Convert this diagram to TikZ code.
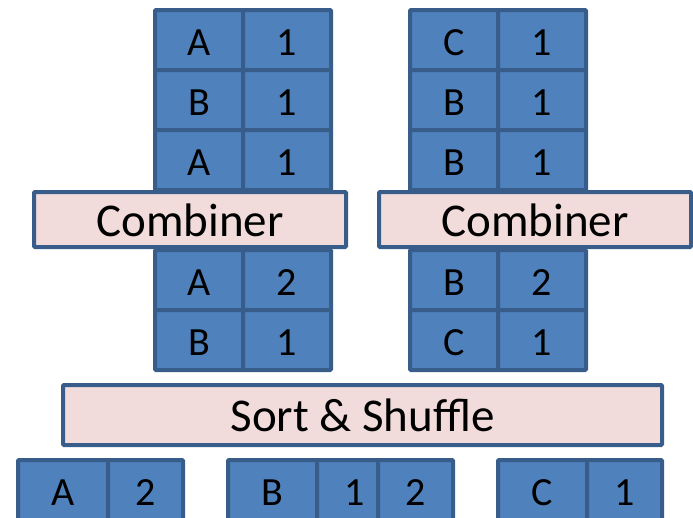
\documentclass[tikz,border=0pt]{standalone}
\usepackage{fontspec}
\setmainfont{Carlito}
\definecolor{cellblue}{HTML}{4F81BD}
\definecolor{cellline}{HTML}{385D8A}
\definecolor{stagepink}{HTML}{F2DCDB}

\begin{document}
\begin{tikzpicture}[x=1pt,y=-1pt,
	cell/.style={draw=cellline,fill=cellblue,line width=4pt,rounded corners=1pt,
		anchor=north west,inner sep=0pt,outer sep=0pt,minimum height=60pt,
		text height=30pt,text depth=0pt,font=\fontsize{40}{40}\selectfont},
	stage/.style={draw=cellline,fill=stagepink,line width=4pt,rounded corners=1pt,
		inner sep=0pt,outer sep=0pt,text height=33pt,text depth=0pt,
		font=\fontsize{47}{47}\selectfont}]
\useasboundingbox (0,0) rectangle (693,517);
\clip (0,0) rectangle (693,517);
% map output, before the combiners
\foreach \k/\v [count=\i] in {A/1,B/1,A/1} {
	\node[cell,minimum width=88pt] (lk\i) at (155,{10+60*(\i-1)}) {\k};
	\node[cell,minimum width=88pt] (lv\i) at (243,{10+60*(\i-1)}) {\v};
}
\foreach \k/\v [count=\i] in {C/1,B/1,B/1} {
	\node[cell,minimum width=88pt] (rk\i) at (410,{10+60*(\i-1)}) {\k};
	\node[cell,minimum width=88pt] (rv\i) at (498,{10+60*(\i-1)}) {\v};
}
% after the combiners
\foreach \k/\v [count=\i] in {A/2,B/1} {
	\node[cell,minimum width=88pt] (lck\i) at (155,{250+60*(\i-1)}) {\k};
	\node[cell,minimum width=88pt] (lcv\i) at (243,{250+60*(\i-1)}) {\v};
}
\foreach \k/\v [count=\i] in {B/2,C/1} {
	\node[cell,minimum width=88pt] (rck\i) at (410,{250+60*(\i-1)}) {\k};
	\node[cell,minimum width=88pt] (rcv\i) at (498,{250+60*(\i-1)}) {\v};
}
\node[stage,minimum width=312pt,minimum height=55pt] (combl) at (190,219.5) {Combiner};
\node[stage,minimum width=312pt,minimum height=55pt] (combr) at (535,219.5) {Combiner};
\node[stage,minimum width=599pt,minimum height=60pt] (sort) at (362.5,415) {Sort \& Shuffle};
% reducer input
\node[cell,minimum width=90pt] (ak) at (18,460) {A};
\node[cell,minimum width=75pt] (av) at (108,460) {2};
\node[cell,minimum width=89pt] (bk) at (228,460) {B};
\node[cell,minimum width=61pt] (bv1) at (317,460) {\hspace*{14pt}1};
\node[cell,minimum width=75pt] (bv2) at (378,460) {2};
\node[cell,minimum width=89pt] (ck) at (498,460) {C};
\node[cell,minimum width=75pt] (cv) at (587,460) {1};
\end{tikzpicture}
\end{document}
